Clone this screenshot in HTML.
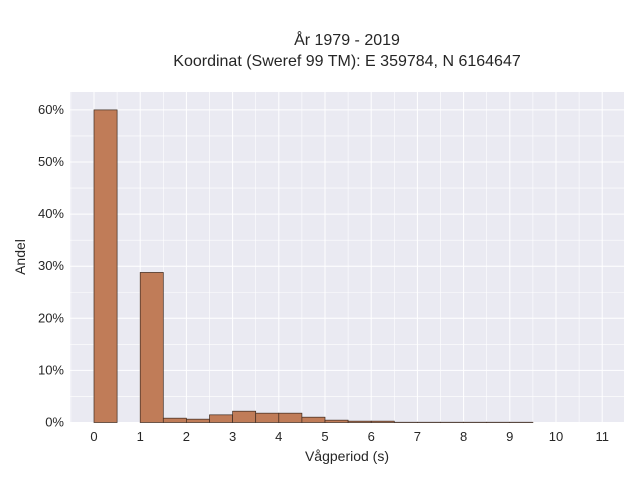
<!DOCTYPE html>
<html><head><meta charset="utf-8"><style>
body{margin:0;background:#fff;}
svg{display:block;font-family:"Liberation Sans",sans-serif;}
</style></head><body>
<svg id="chart" width="640" height="480">
<text x="347" y="45" text-anchor="middle" font-size="16" fill="#262626">År 1979 - 2019</text>
<text x="347" y="66" text-anchor="middle" font-size="16" fill="#262626">Koordinat (Sweref 99 TM): E 359784, N 6164647</text>
<rect x="70" y="92" width="554" height="331" fill="#eaeaf2"/>
<g id="grid"></g><g id="bars"></g><g id="ticks"></g>
<text x="347" y="461" text-anchor="middle" font-size="14" fill="#262626">Vågperiod (s)</text>
<text transform="translate(25,257) rotate(-90)" text-anchor="middle" font-size="14" fill="#262626">Andel</text>
</svg>
<script>
const binStarts=[0,1,1.5,2,2.5,3,3.5,4,4.5,5,5.5,6,6.5,7,7.5,8,8.5,9];
const binValues=[60,28.8,0.83,0.64,1.47,2.17,1.79,1.79,1.02,0.45,0.26,0.26,0.05,0.05,0.05,0.05,0.05,0.05];
const xTicks=[0,1,2,3,4,5,6,7,8,9,10,11];
const yTicks=[0,10,20,30,40,50,60];
const binWidth=0.5;
const NS="http://www.w3.org/2000/svg";
const X=v=>94+v*46.2, Y=v=>422.5-v*5.21;
const g=document.getElementById('grid'),b=document.getElementById('bars'),t=document.getElementById('ticks');
function mk(tag,a,p){const e=document.createElementNS(NS,tag);for(const k in a)e.setAttribute(k,a[k]);p.appendChild(e);return e;}
for(let v=-0.5;v<=11.5;v+=0.5){const x=X(v);if(x<70||x>624)continue;
 const l=mk('line',{x1:x,x2:x,y1:92,y2:423,stroke:'#fff','stroke-width':Number.isInteger(v)?1:0.6},g);
 
 }
for(let v=0;v<=62;v+=5){const y=Y(v);if(y<92)continue;
 const l=mk('line',{x1:70,x2:624,y1:y,y2:y,stroke:'#fff','stroke-width':v%10===0?1:0.6},g);
 
 }
binStarts.forEach((s,i)=>{const r=mk('rect',{x:X(s),y:Y(binValues[i]),width:X(s+binWidth)-X(s),height:Y(0)-Y(binValues[i]),fill:'#c07c58',stroke:'#3d2a20','stroke-width':0.7},b);
 
 });
xTicks.forEach(v=>{const e=mk('text',{x:X(v),y:441,'text-anchor':'middle','font-size':13,fill:'#262626'},t);e.textContent=v;
 
 });
yTicks.forEach(v=>{const e=mk('text',{x:64,y:Y(v)+4,'text-anchor':'end','font-size':13,fill:'#262626'},t);e.textContent=v+'%';
 
 });
</script>
</body></html>
